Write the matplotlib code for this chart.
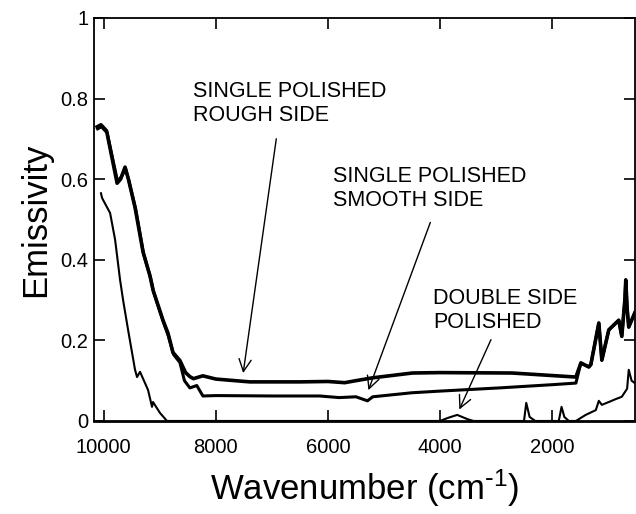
import matplotlib
matplotlib.use("Agg")
import matplotlib.pyplot as plt
from matplotlib.ticker import FuncFormatter

plt.rcParams['font.family'] = ['Liberation Sans', 'DejaVu Sans']
plt.rcParams['mathtext.default'] = 'regular'

# single polished, rough side
wn_rough = [10118, 10050, 9950, 9762, 9700, 9620, 9560, 9442, 9300, 9175, 9121, 8943, 8854,
            8765, 8641, 8540, 8463, 8400, 8231, 8000, 7395, 6500, 6000, 5700, 5500, 5205,
            4493, 4000, 2713, 1574, 1485, 1343, 1307, 1165, 1111, 987, 809, 755, 700, 684,
            660, 631, 524]
em_rough = [0.73, 0.735, 0.72, 0.59, 0.60, 0.63, 0.60, 0.53, 0.42, 0.36, 0.325, 0.25, 0.218,
            0.17, 0.15, 0.12, 0.11, 0.105, 0.112, 0.104, 0.097, 0.097, 0.098, 0.095, 0.10, 0.107,
            0.119, 0.12, 0.119, 0.109, 0.144, 0.134, 0.14, 0.243, 0.151, 0.226, 0.25, 0.21, 0.30,
            0.35, 0.28, 0.233, 0.268]

# single polished, smooth side
wn_smooth = [10110, 10040, 9940, 9755, 9690, 9610, 9550, 9430, 9290, 9165, 9110, 8935, 8845,
             8755, 8641, 8560, 8463, 8340, 8231, 8000, 7000, 6149, 5800, 5500, 5294, 5200,
             4500, 4013, 2945, 2000, 1574, 1485, 1343, 1307, 1165, 1111, 987, 809, 755, 700,
             684, 660, 631, 524]
em_smooth = [0.725, 0.73, 0.715, 0.595, 0.605, 0.625, 0.595, 0.525, 0.415, 0.355, 0.32, 0.245, 0.21,
             0.165, 0.145, 0.10, 0.082, 0.088, 0.062, 0.063, 0.062, 0.062, 0.058, 0.06, 0.05, 0.06,
             0.07, 0.074, 0.082, 0.09, 0.094, 0.144, 0.134, 0.14, 0.243, 0.151, 0.226, 0.25, 0.21,
             0.30, 0.35, 0.28, 0.233, 0.268]

# double side polished
wn_double = [10050, 10029, 9887, 9798, 9709, 9655, 9566, 9442, 9406, 9353, 9210, 9139, 9121,
             8997, 8872, 4000, 3850, 3692, 3500, 3400, 2500, 2460, 2400, 2300, 1880, 1830,
             1780, 1700, 1574, 1400, 1218, 1165, 1111, 987, 850, 755, 660, 631, 580, 524]
em_double = [0.565, 0.553, 0.516, 0.45, 0.35, 0.30, 0.226, 0.127, 0.109, 0.122, 0.077, 0.035, 0.047,
             0.02, 0.0, 0.0, 0.008, 0.015, 0.004, 0.0, 0.0, 0.045, 0.01, 0.0, 0.0, 0.035,
             0.01, 0.0, 0.0, 0.015, 0.027, 0.05, 0.04, 0.047, 0.055, 0.06, 0.08, 0.127, 0.10, 0.094]

xticks = [10000, 8000, 6000, 4000, 2000]
yticks = [0, 0.2, 0.4, 0.6, 0.8, 1]

fig = plt.figure(figsize=(6.36, 5.14), dpi=100)
ax = fig.add_axes([0.148, 0.181, 0.850, 0.784])

ax.plot(wn_rough, em_rough, color="black", lw=2.6)
ax.plot(wn_smooth, em_smooth, color="black", lw=2.2)
ax.plot(wn_double, em_double, color="black", lw=1.5)

ax.set_xlim(10172, 524)
ax.set_ylim(0, 1)
ax.set_xticks(xticks)
ax.set_yticks(yticks)
ax.yaxis.set_major_formatter(FuncFormatter(lambda v, p: "%g" % v))
ax.tick_params(direction="in", length=8, width=1.2, top=True, right=True, labelsize=14.5)
ax.tick_params(axis="x", pad=12)
ax.tick_params(axis="y", pad=4)
for s in ax.spines.values():
    s.set_linewidth(1.3)
ax.spines["bottom"].set_linewidth(2)

ax.set_xlabel(r"Wavenumber (cm$^{\text{-}1}$)", fontsize=25, labelpad=8)
ax.set_ylabel("Emissivity", fontsize=25, labelpad=6)

# labels with arrows
arrow = dict(arrowstyle="->", color="black", lw=1.0, mutation_scale=22)
ax.annotate("", xy=(7519, 0.112), xytext=(6914, 0.707), arrowprops=arrow)
ax.text(8409, 0.843, "SINGLE POLISHED\nROUGH SIDE", fontsize=15.5, va="top", linespacing=1.2)
ax.annotate("", xy=(5294, 0.07), xytext=(4155, 0.499), arrowprops=arrow)
ax.text(5900, 0.632, "SINGLE POLISHED\nSMOOTH SIDE", fontsize=15.5, va="top", linespacing=1.2)
ax.annotate("", xy=(3675, 0.022), xytext=(3069, 0.208), arrowprops=arrow)
ax.text(4120, 0.330, "DOUBLE SIDE\nPOLISHED", fontsize=15.5, va="top", linespacing=1.2)

fig.savefig("out.png", dpi=100)
